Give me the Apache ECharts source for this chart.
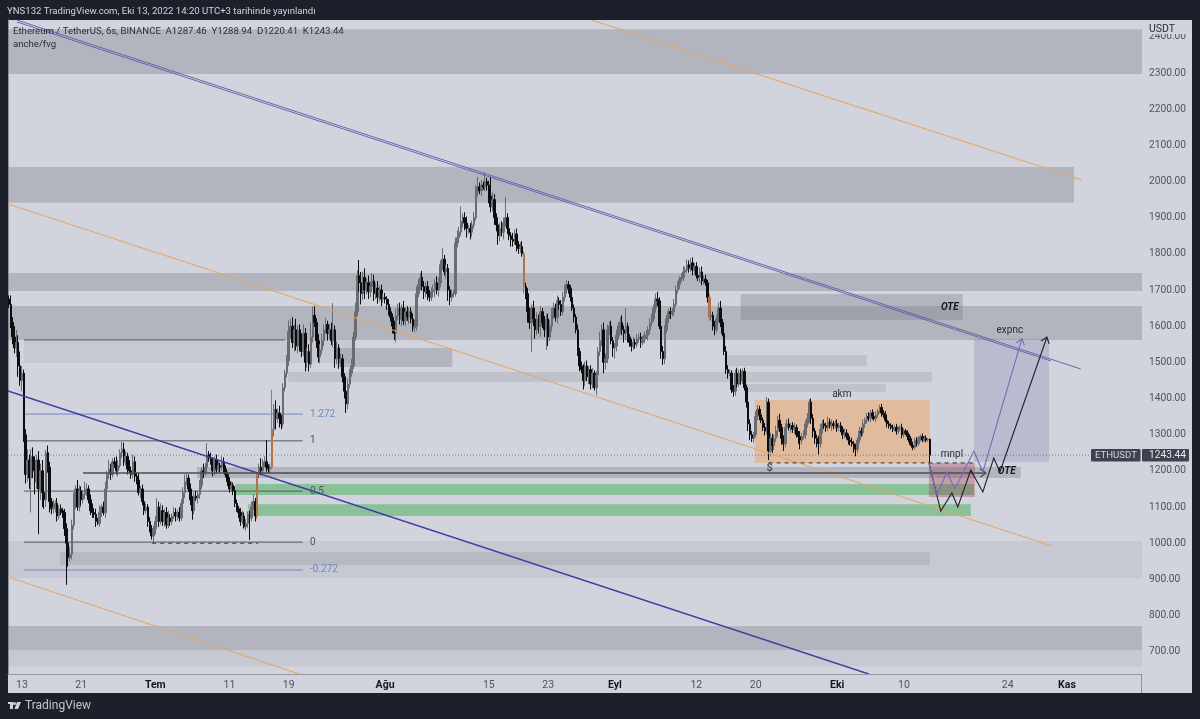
<!DOCTYPE html>
<html>
<head>
<meta charset="utf-8">
<title>ETHUSDT</title>
<script src="https://cdn.jsdelivr.net/npm/echarts@6/dist/echarts.min.js"></script>
<style>
  html, body { margin: 0; padding: 0; background: #1c202b; }
  #chart { width: 1200px; height: 719px; }
</style>
</head>
<body>
<div id="chart"></div>
<script>
// 6h closes (20 candles per row)
const closes = [
  1660,1610,1570,1540,1555,1490,1450,1470,1300,1190,1230,1180,1240,1200,1170,1230,1150,1200,1140,1120,
  1250,1210,1115,1095,1100,1110,1075,1095,1090,1085,1040,1000,960,970,1050,1110,1150,1100,1145,1120,
  1135,1145,1150,1120,1090,1085,1080,1060,1055,1085,1100,1085,1150,1190,1205,1190,1225,1220,1200,1215,
  1250,1260,1225,1240,1205,1200,1190,1225,1185,1175,1140,1150,1115,1090,1100,1060,1040,1020,1040,1060,
  1100,1060,1090,1060,1085,1050,1070,1060,1075,1085,1075,1085,1070,1110,1140,1170,1180,1150,1120,1090,
  1130,1125,1135,1160,1200,1195,1210,1245,1235,1225,1200,1230,1205,1215,1210,1225,1205,1190,1170,1150,
  1160,1145,1110,1095,1085,1060,1075,1045,1055,1080,1070,1100,1115,1075,1190,1210,1200,1220,1225,1210,
  1205,1210,1315,1370,1345,1360,1345,1330,1430,1470,1505,1585,1600,1555,1590,1545,1590,1560,1530,1580,
  1500,1530,1495,1570,1630,1610,1560,1515,1535,1560,1590,1605,1580,1590,1560,1590,1510,1540,1500,1510,
  1460,1420,1385,1440,1470,1490,1570,1640,1740,1720,1690,1735,1700,1720,1695,1710,1725,1690,1705,1680,
  1700,1675,1680,1675,1660,1640,1625,1600,1580,1630,1650,1620,1650,1615,1640,1625,1640,1620,1595,1600,
  1690,1715,1735,1710,1695,1710,1690,1680,1695,1700,1720,1700,1720,1770,1785,1750,1760,1700,1680,1690,
  1690,1830,1845,1860,1890,1900,1885,1870,1870,1860,1880,1900,1970,1985,1975,1990,1985,2000,1990,1960,
  1930,1950,1900,1880,1850,1870,1860,1885,1900,1870,1850,1840,1835,1855,1825,1815,1820,1800,1710,1690,
  1640,1610,1650,1620,1590,1620,1600,1640,1610,1590,1620,1570,1600,1640,1650,1625,1670,1660,1640,1680,
  1700,1715,1705,1680,1650,1625,1590,1530,1490,1480,1450,1490,1460,1480,1440,1470,1430,1465,1530,1560,
  1590,1500,1510,1590,1600,1560,1540,1545,1575,1600,1610,1590,1580,1600,1570,1555,1545,1555,1550,1565,
  1570,1555,1565,1575,1575,1590,1610,1620,1650,1675,1670,1600,1530,1510,1590,1620,1640,1635,1640,1660,
  1700,1715,1730,1735,1750,1755,1770,1760,1775,1755,1765,1740,1735,1750,1725,1730,1720,1680,1625,1630,
  1600,1590,1620,1650,1610,1580,1530,1480,1470,1470,1425,1420,1470,1440,1470,1450,1475,1430,1390,1330,
  1300,1290,1300,1350,1370,1355,1340,1320,1310,1390,1255,1290,1270,1290,1310,1340,1320,1290,1275,1320,
  1330,1320,1325,1315,1320,1300,1295,1285,1295,1300,1330,1345,1390,1345,1310,1290,1285,1275,1315,1330,
  1325,1320,1335,1325,1330,1325,1330,1320,1325,1315,1300,1305,1295,1285,1280,1275,1265,1260,1285,1310,
  1305,1330,1340,1350,1345,1360,1350,1345,1355,1365,1375,1360,1355,1340,1330,1325,1320,1315,1320,1310,
  1315,1320,1300,1310,1305,1295,1280,1270,1265,1285,1275,1290,1295,1285,1290,1285,1287.46,1243.44
]
// how far each wick sticks out above the body
const wickUp = [
  10,25,15,30,35,20,40,20,10,15,30,15,20,25,40,15,25,20,30,25,
  8,20,15,10,20,8,15,10,12,8,10,15,10,20,15,30,10,25,15,12,
  12,25,15,10,15,20,12,15,10,20,8,15,20,10,25,15,10,12,20,15,
  10,20,18,15,10,25,12,20,15,10,20,8,12,15,10,8,12,10,8,15,
  25,15,20,15,10,15,20,10,8,15,12,8,15,12,15,20,12,10,15,10,
  10,15,12,15,10,20,12,32,10,15,12,10,15,12,8,15,12,10,8,12,
  10,8,12,10,8,12,15,10,12,8,10,15,20,10,5,10,25,12,15,60,
  8,10,109,15,25,12,20,10,12,10,15,31,20,25,15,30,12,15,20,25,
  15,10,20,40,25,25,12,18,15,20,15,18,10,15,20,74,12,18,10,15,
  12,10,8,15,12,20,15,25,15,43,30,15,25,12,20,15,22,18,15,20,
  12,15,10,12,8,15,12,10,15,18,12,15,10,20,12,15,10,12,15,18,
  20,15,12,18,15,12,15,10,12,15,10,18,15,12,31,12,10,12,10,12,
  10,15,20,15,41,12,15,18,10,15,12,15,20,28,12,15,10,26,10,12,
  53,20,15,12,18,15,20,15,57,12,15,10,18,12,15,10,12,15,8,10,
  15,12,10,20,15,18,12,15,10,18,12,15,18,10,15,12,15,10,12,15,
  15,12,10,8,12,10,8,15,10,12,15,12,15,10,12,15,8,10,12,25,
  15,20,15,15,12,15,10,8,15,12,15,20,12,50,10,8,10,15,10,12,
  10,12,8,10,15,10,12,15,10,15,20,10,8,15,12,10,8,12,10,15,
  12,10,8,12,15,10,15,12,13,15,10,12,8,12,15,10,12,8,10,12,
  10,15,12,15,20,10,8,15,12,10,8,12,10,15,10,12,8,10,8,15,
  12,10,8,15,12,10,15,8,12,14,10,15,12,10,15,12,18,10,8,12,
  12,15,8,10,12,8,10,15,10,12,10,15,8,10,12,8,10,12,15,10,
  12,8,15,10,12,8,10,12,8,10,8,12,10,8,10,12,8,10,8,12,
  10,12,8,10,12,8,10,12,10,7,8,10,8,10,12,8,6,8,6,10,
  8,6,10,8,6,8,6,10,8,6,8,6,5,8,6,8,3,1.48
]
const wickDown = [
  10,15,20,15,25,30,15,30,20,25,20,30,95,20,35,20,125,30,40,25,
  20,15,30,15,12,15,15,10,12,15,20,115,25,10,15,12,15,10,12,15,
  10,12,15,10,12,15,10,15,5,10,12,8,15,10,12,15,8,12,10,15,
  8,15,12,10,15,8,12,10,15,12,8,15,10,12,8,15,10,10,20,15,
  12,15,8,12,15,10,8,12,10,8,15,12,10,8,12,15,10,8,15,25,
  10,8,15,12,10,15,8,12,10,8,15,12,10,8,15,10,12,8,12,10,
  8,12,10,8,15,12,8,5,10,12,61,10,8,15,8,10,12,8,10,12,
  10,12,5,20,30,12,25,15,8,10,12,15,20,15,25,12,20,30,15,12,
  25,15,20,10,15,12,20,15,18,12,15,10,20,15,12,18,25,15,18,12,
  15,20,25,15,12,10,8,10,12,25,30,18,25,12,20,15,12,20,15,18,
  12,20,10,12,15,10,12,20,18,25,12,15,20,12,15,10,18,12,10,12,
  12,10,15,12,20,15,18,12,10,15,20,12,18,12,15,10,20,30,22,12,
  10,8,12,15,10,18,20,25,15,20,12,10,8,12,10,15,8,12,15,20,
  15,12,20,18,25,15,12,20,10,15,12,20,15,10,18,15,12,8,20,15,
  30,18,81,20,25,15,20,30,15,20,56,25,12,15,20,12,18,15,12,10,
  12,10,15,12,8,15,10,12,15,10,25,15,12,20,15,12,8,20,10,12,
  15,30,20,12,15,10,25,30,15,12,20,15,25,18,15,12,15,10,12,8,
  10,15,8,12,10,15,12,10,8,12,15,8,20,17,15,10,12,15,8,10,
  8,10,12,8,10,15,8,12,10,15,12,8,10,15,12,10,8,15,8,10,
  12,15,8,10,12,8,10,12,15,8,10,15,12,10,8,12,10,8,15,20,
  15,10,12,8,10,15,8,10,12,8,25,15,20,12,10,15,12,18,20,10,
  12,8,15,10,12,8,20,25,12,8,12,10,12,15,18,15,20,30,10,12,
  8,12,10,8,15,10,8,12,10,8,12,10,8,12,10,8,15,20,10,8,
  10,8,12,10,8,10,8,6,10,8,6,10,8,6,10,8,6,8,6,10,
  8,6,10,8,6,10,8,6,8,6,8,6,8,6,5,6,4,23.03
]
const firstOpen = 1675
const highlighted = [134, 142, 278, 378] // the big orange candles

const slotCount = 612
const xTickSlots = [7, 39, 79, 119, 151, 203, 259, 291, 327, 371, 403, 447, 483, 539, 571]
const xTickNames = ['13', '21', 'Tem', '11', '19', 'Ağu', '15', '23', 'Eyl', '12', '20', 'Eki', '10', '24', 'Kas']
const monthNames = ['Tem', 'Ağu', 'Eyl', 'Eki', 'Kas']
const priceTicks = [700, 800, 900, 1000, 1100, 1200, 1300, 1400, 1500, 1600, 1700, 1800, 1900, 2000, 2100, 2200, 2300, 2400]

// zones: [slot from, slot to, price top, price bottom]
const zonesGray = [
  [0, 612, 2421, 2297], [0, 575.3, 2040, 1941], [0, 612, 1747, 1697], [0, 612, 1656, 1562],
  [395.4, 515.3, 1689, 1617], [177.7, 239.8, 1540, 1487], [102, 546.6, 1211, 1180], [0, 612, 771, 705]
]
const zonesMid = [
  [151.2, 498.6, 1473, 1446], [387.8, 463.5, 1520, 1490], [398.1, 473.7, 1440, 1418], [28.1, 497.5, 975, 939]
]
const zonesLight = [
  [8.6, 185.8, 1562, 1498], [0, 612, 1006, 904], [0, 612, 705, 660]
]
const zonesOrange = [[403, 497.5, 1396, 1222]]
const zonesGreen = [[122.6, 521.3, 1164, 1133], [129.6, 519.6, 1108, 1075]]
const zonesRed = [[497, 521.8, 1222, 1128]]
const zonesTarget = [[521.3, 561.8, 1565, 1225]]

// trend lines: [slot, price, slot, price]
const linesPurple = [[4.86, 2446.3, 579, 1481.6], [4.86, 2441, 562.9, 1503.8]]
const linesBlue = [[0, 1420.8, 464.5, 638.4]]
const linesOrange = [[314.9, 2446.5, 579.6, 2004.2], [0, 1937.8, 563.4, 992.3], [0, 906.6, 157.2, 638.4]]
const fibGray = [[8.6, 149.6, 1562, 1562], [8.6, 159, 1283, 1283], [8.6, 159, 1144, 1144], [8.6, 159, 1003, 1003]]
const fibBlue = [[8.6, 159, 1357, 1357], [8.6, 159, 926, 926]]
const dashedLevels = [[77.8, 135, 1000, 1000], [410.5, 521.3, 1222, 1222]]
const lastPriceLine = [[0, 612, 1243.44, 1243.44]]

const pathBlack = [[497, 1222], [503.4, 1089], [509.4, 1139], [512.6, 1100], [519.6, 1202], [526.1, 1141.6], [532, 1235.6], [535.3, 1196.9], [560.7, 1570]]
const pathPurple = [[497, 1222], [501.3, 1133], [506.7, 1197], [511, 1150], [521.3, 1255], [526.1, 1197], [547.2, 1565]]
const pathLevel = [[40.5, 1194], [527.7, 1194]]

const noteNames = ['expnc', 'akm', 'mnpl']
const noteSlots = [540.7, 450, 509.4]
const notePrices = [1587, 1412, 1244]
const oteSlots = [508.3, 539]
const otePrices = [1653, 1197]
const fibGrayNames = ['1', '0.5', '0']
const fibGrayPrices = [1283, 1144, 1003]
const fibBlueNames = ['1.272', '-0.272']
const fibBluePrices = [1357, 926]

const FONT = 'Roboto, "Liberation Sans", Arial, sans-serif'

const buildCandles = () => {
  return closes.map((close, i) => {
    const open = i === 0 ? firstOpen : closes[i - 1]
    const high = Math.max(open, close) + wickUp[i]
    const low = Math.min(open, close) - wickDown[i]
    const item = { value: [open, close, low, high] }
    if (highlighted.includes(i)) {
      item.itemStyle = { color: '#b5714a', color0: '#b5714a', borderColor: '#b5714a', borderColor0: '#b5714a' }
    }
    return item
  })
}

const overlayBase = (z) => ({
  type: 'custom',
  xAxisIndex: 1,
  yAxisIndex: 0,
  z,
  silent: true,
  clip: true,
  animation: false
})

const zoneSeries = (rows, color, z = 1) => ({
  ...overlayBase(z),
  data: rows,
  encode: { x: [0, 1], y: [2, 3] },
  renderItem: (params, api) => {
    const a = api.coord([api.value(0), api.value(2)])
    const b = api.coord([api.value(1), api.value(3)])
    return { type: 'rect', shape: { x: a[0], y: a[1], width: b[0] - a[0], height: b[1] - a[1] }, style: { fill: color } }
  }
})

// levels are [x0, x1, p0, p1], trend lines get swapped to the same order
const lineSeries = (rows, stroke, lineWidth, lineDash, z = 4) => ({
  ...overlayBase(z),
  data: rows,
  encode: { x: [0, 1], y: [2, 3] },
  renderItem: (params, api) => {
    const a = api.coord([api.value(0), api.value(2)])
    const b = api.coord([api.value(1), api.value(3)])
    return {
      type: 'line',
      shape: { x1: a[0], y1: a[1], x2: b[0], y2: b[1] },
      style: { stroke, lineWidth, lineDash: lineDash || null }
    }
  }
})

const trend = (rows) => rows.map(r => [r[0], r[2], r[1], r[3]])

const arrowSeries = (points, stroke, lineWidth) => ({
  ...overlayBase(6),
  data: [[points[0][0], points[0][1]]],
  encode: { x: 0, y: 1 },
  renderItem: (params, api) => {
    const pts = points.map(p => api.coord(p))
    const end = pts[pts.length - 1]
    const prev = pts[pts.length - 2]
    const angle = Math.atan2(end[1] - prev[1], end[0] - prev[0])
    const head = [angle + 2.5, angle - 2.5].map(a => [end[0] + Math.cos(a) * 7, end[1] + Math.sin(a) * 7])
    return {
      type: 'group',
      children: [
        { type: 'polyline', shape: { points: pts }, style: { stroke, lineWidth, fill: null } },
        { type: 'polyline', shape: { points: [head[0], end, head[1]] }, style: { stroke, lineWidth, fill: null } }
      ]
    }
  }
})

const textSeries = (names, slots, prices, font, fill, align) => ({
  ...overlayBase(7),
  data: names.map((n, i) => [slots[i], prices[i]]),
  encode: { x: 0, y: 1 },
  renderItem: (params, api) => {
    const p = api.coord([api.value(0), api.value(1)])
    return {
      type: 'text',
      x: p[0],
      y: p[1],
      style: { text: names[params.dataIndex], font, fill, align, verticalAlign: 'middle' }
    }
  }
})

const chart = echarts.init(document.getElementById('chart'), null, { renderer: 'canvas' })

chart.setOption({
  animation: false,
  backgroundColor: '#1c202b',
  textStyle: { fontFamily: FONT },
  grid: { left: 8, right: 58, top: 20, bottom: 45, containLabel: false },
  xAxis: [
    {
      type: 'category',
      data: Array.from({ length: slotCount }, (_, i) => String(i)),
      boundaryGap: true,
      axisLine: { onZero: false, lineStyle: { color: '#9598a1' } },
      axisTick: { show: false },
      splitLine: { show: false },
      axisLabel: {
        margin: 6,
        interval: (index) => xTickSlots.includes(index),
        hideOverlap: false,
        fontSize: 10.5,
        color: '#50535e',
        formatter: (value, index) => {
          const name = xTickNames[xTickSlots.indexOf(Number(value))]
          return monthNames.includes(name) ? `{month|${name}}` : name
        },
        rich: { month: { fontSize: 10.5, fontWeight: 'bold', color: '#131722' } }
      }
    },
    { type: 'value', min: 0, max: slotCount, show: false }
  ],
  yAxis: {
    type: 'value',
    position: 'right',
    min: 638.4,
    max: 2446.5,
    splitLine: { show: false },
    axisTick: { show: false },
    axisLine: { show: true, lineStyle: { color: '#8f929b' } },
    axisLabel: {
      customValues: priceTicks,
      margin: 7,
      fontSize: 10.2,
      color: '#50535e',
      formatter: (v) => v.toFixed(2)
    }
  },
  series: [
    zoneSeries(zonesLight, 'rgba(120,123,134,0.12)'),
    zoneSeries(zonesMid, 'rgba(120,123,134,0.2)'),
    zoneSeries(zonesGray, 'rgba(120,123,134,0.35)'),
    zoneSeries(zonesOrange, 'rgba(255,140,40,0.35)'),
    zoneSeries(zonesGreen, 'rgba(50,170,70,0.45)'),
    zoneSeries(zonesRed, 'rgba(150,40,60,0.3)'),
    zoneSeries(zonesTarget, 'rgba(100,100,160,0.22)'),
    lineSeries(lastPriceLine, '#787b86', 1, [1, 2], 2),
    lineSeries(trend(linesOrange), '#e8a565', 1.1),
    lineSeries(trend(linesBlue), '#3f3d9e', 1.4),
    lineSeries(trend(linesPurple), '#5a5ca8', 0.9),
    lineSeries(fibGray, '#55585f', 1, null, 2),
    lineSeries(fibBlue, '#6f86c9', 1, null, 2),
    lineSeries(dashedLevels, '#33353b', 1, [4, 4]),
    {
      type: 'candlestick',
      xAxisIndex: 0,
      yAxisIndex: 0,
      z: 3,
      silent: true,
      barWidth: 2,
      animation: false,
      progressive: 0,
      itemStyle: { color: '#6a6c74', color0: '#0d0d10', borderColor: '#6a6c74', borderColor0: '#0d0d10', borderWidth: 1 },
      data: buildCandles()
    },
    arrowSeries(pathLevel, '#4b4d55', 1.4),
    arrowSeries(pathBlack, '#1f2026', 1.1),
    arrowSeries(pathPurple, '#7a68c0', 1.1),
    textSeries(noteNames, noteSlots, notePrices, `10px ${FONT}`, '#2a2e39', 'center'),
    textSeries(['OTE', 'OTE'], oteSlots, otePrices, `italic bold 10px ${FONT}`, '#131722', 'center'),
    textSeries(['$'], [411], [1208], `bold 11px ${FONT}`, '#50535e', 'center'),
    textSeries(fibGrayNames, [163, 163, 163], fibGrayPrices, `10px ${FONT}`, '#50535e', 'left'),
    textSeries(fibBlueNames, [163, 163], fibBluePrices, `10px ${FONT}`, '#6f86c9', 'left')
  ],
  graphic: [
    { type: 'rect', z: -5, silent: true, shape: { x: 8, y: 20, width: 1184, height: 673 }, style: { fill: '#d1d4dc' } },
    { type: 'rect', z: 60, silent: true, shape: { x: 1143, y: 20, width: 49, height: 14 }, style: { fill: '#d1d4dc' } },
    { type: 'line', z: 60, silent: true, shape: { x1: 1141.5, y1: 674, x2: 1141.5, y2: 693 }, style: { stroke: '#8f929b', lineWidth: 1 } },
    { type: 'text', z: 61, silent: true, x: 1149, y: 24, style: { text: 'USDT', font: `10.5px ${FONT}`, fill: '#2a2e39' } },
    { type: 'text', z: 61, silent: true, x: 7, y: 7, style: { text: 'YNS132 TradingView.com, Eki 13, 2022 14:20 UTC+3 tarihinde yayınlandı', font: `9.6px ${FONT}`, fill: '#d1d4dc' } },
    { type: 'text', z: 61, silent: true, x: 13, y: 27, style: { text: 'Ethereum / TetherUS, 6s, BINANCE  A1287.46  Y1288.94  D1220.41  K1243.44', font: `9.6px ${FONT}`, fill: '#2a2e39' } },
    { type: 'text', z: 61, silent: true, x: 13, y: 40, style: { text: 'anche/fvg', font: `9.6px ${FONT}`, fill: '#2a2e39' } },
    { type: 'rect', z: 61, silent: true, shape: { x: 1091, y: 449, width: 49.5, height: 12.5, r: 1 }, style: { fill: '#3e424e' } },
    { type: 'rect', z: 61, silent: true, shape: { x: 1142, y: 449, width: 47, height: 12.5, r: 1 }, style: { fill: '#3e424e' } },
    { type: 'text', z: 62, silent: true, x: 1095, y: 450.5, style: { text: 'ETHUSDT', font: `9.6px ${FONT}`, fill: '#d1d4dc' } },
    { type: 'text', z: 62, silent: true, x: 1149, y: 450.5, style: { text: '1243.44', font: `10.2px ${FONT}`, fill: '#e6e8ee' } },
    { type: 'rect', z: 61, silent: true, shape: { x: 8, y: 702, width: 5, height: 2 }, style: { fill: '#d1d4dc' } },
    { type: 'rect', z: 61, silent: true, shape: { x: 10, y: 702, width: 3, height: 7 }, style: { fill: '#d1d4dc' } },
    { type: 'circle', z: 61, silent: true, shape: { cx: 14.5, cy: 703.5, r: 1.5 }, style: { fill: '#d1d4dc' } },
    { type: 'polygon', z: 61, silent: true, shape: { points: [[17, 702], [21, 702], [18, 709], [14.5, 709]] }, style: { fill: '#d1d4dc' } },
    { type: 'text', z: 61, silent: true, x: 25, y: 700, style: { text: 'TradingView', font: `12px ${FONT}`, fill: '#c4c7cf' } }
  ]
})
</script>
</body>
</html>
